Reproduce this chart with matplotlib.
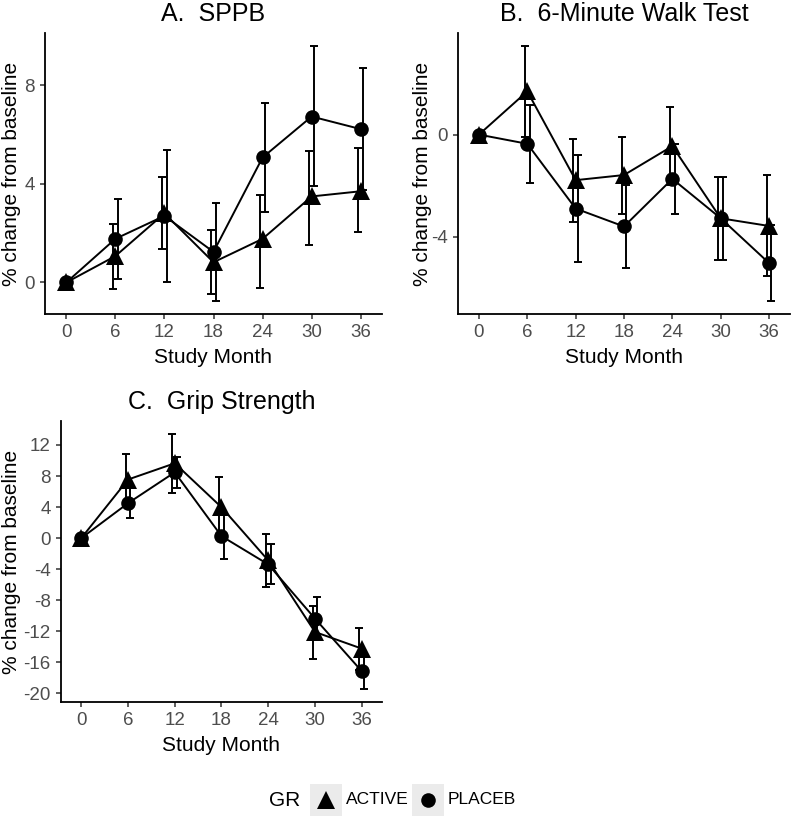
import matplotlib
matplotlib.use("Agg")
import matplotlib.pyplot as plt
from matplotlib.lines import Line2D
from matplotlib.patches import Rectangle

plt.rcParams['font.family'] = ['Liberation Sans', 'DejaVu Sans']

months = [0, 6, 12, 18, 24, 30, 36]
month_ticks = [0, 6, 12, 18, 24, 30, 36]

# A. SPPB
sppb_active = [0, 1.07, 2.8, 0.82, 1.77, 3.49, 3.7]
sppb_active_lo = [0, -0.28, 1.34, -0.47, -0.21, 1.54, 2.04]
sppb_active_hi = [0, 2.38, 4.26, 2.12, 3.56, 5.32, 5.45]
sppb_placeb = [0, 1.77, 2.7, 1.24, 5.07, 6.73, 6.22]
sppb_placeb_lo = [0, 0.15, 0.0, -0.76, 2.87, 3.9, 3.75]
sppb_placeb_hi = [0, 3.4, 5.38, 3.23, 7.27, 9.6, 8.69]

# B. 6-Minute Walk Test
walk_active = [0, 1.69, -1.78, -1.58, -0.45, -3.27, -3.57]
walk_active_lo = [0, -0.09, -3.41, -3.11, -1.98, -4.9, -5.51]
walk_active_hi = [0, 3.47, -0.16, -0.09, 1.08, -1.65, -1.58]
walk_placeb = [0, -0.36, -2.89, -3.59, -1.73, -3.27, -5.02]
walk_placeb_lo = [0, -1.91, -4.99, -5.2, -3.11, -4.9, -6.51]
walk_placeb_hi = [0, 1.17, -0.79, -1.95, -0.35, -1.65, -3.53]

# C. Grip Strength
grip_active = [0, 7.55, 9.64, 3.98, -2.87, -12.08, -14.22]
grip_active_lo = [0, 4.25, 5.84, 0.12, -6.29, -15.5, -16.92]
grip_active_hi = [0, 10.85, 13.44, 7.84, 0.56, -8.68, -11.52]
grip_placeb = [0, 4.5, 8.48, 0.26, -3.38, -10.36, -17.13]
grip_placeb_lo = [0, 2.6, 6.47, -2.74, -5.95, -13.14, -19.45]
grip_placeb_hi = [0, 6.4, 10.5, 3.26, -0.81, -7.58, -14.81]

panels = [
    ("A.  SPPB", [0, 4, 8],
     (sppb_active, sppb_active_lo, sppb_active_hi),
     (sppb_placeb, sppb_placeb_lo, sppb_placeb_hi)),
    ("B.  6-Minute Walk Test", [0, -4],
     (walk_active, walk_active_lo, walk_active_hi),
     (walk_placeb, walk_placeb_lo, walk_placeb_hi)),
    ("C.  Grip Strength", list(range(-20, 13, 4)),
     (grip_active, grip_active_lo, grip_active_hi),
     (grip_placeb, grip_placeb_lo, grip_placeb_hi)),
]

W, H = 792, 818
fig = plt.figure(figsize=(W / 100, H / 100), dpi=100)

# posições dos painéis em pixels (esquerda, topo, direita, base) e x do rótulo y
boxes = [(45, 33, 382, 314, 21), (458, 33, 790, 314, 432), (61, 421, 382, 702, 21)]

grey = '#4D4D4D'
for (title, yticks, act, plc), (l, t, r, b, ylx) in zip(panels, boxes):
    ax = fig.add_axes([l / W, 1 - b / H, (r - l) / W, (b - t) / H])
    for (vals, lo, hi), marker, ms, dx in [(act, '^', 13.5, -0.3), (plc, 'o', 10.5, 0.3)]:
        xs = [m + dx for m in months]
        yerr = [[v - a for v, a in zip(vals, lo)], [c - v for v, c in zip(vals, hi)]]
        ax.errorbar(xs, vals, yerr=yerr, fmt='none', ecolor='black',
                    elinewidth=1.4, capsize=3, capthick=1.4, zorder=2)
        ax.plot(months, vals, color='black', lw=1.4, marker=marker, ms=ms,
                markeredgewidth=0, zorder=3)

    allv = act[1] + act[2] + plc[1] + plc[2]
    lo_, hi_ = min(allv), max(allv)
    pad = (hi_ - lo_) * 0.05
    ax.set_ylim(lo_ - pad, hi_ + pad)
    ax.set_xlim(-2.6, 38.6)
    ax.set_xticks(month_ticks)
    ax.set_yticks(yticks)
    ax.set_yticklabels([str(v) for v in yticks])

    for s in ['top', 'right']:
        ax.spines[s].set_visible(False)
    for s in ['left', 'bottom']:
        ax.spines[s].set_linewidth(1.3)
    ax.tick_params(axis='both', length=3.5, width=1.1, color='#333333',
                   labelsize=13.5, labelcolor=grey, pad=4)

    ax.set_title(title, fontsize=18, pad=8.5)
    ax.set_xlabel("Study Month", fontsize=15, labelpad=4.5)
    ax.set_ylabel("% change from baseline", fontsize=15)
    ax.yaxis.set_label_coords((ylx - l) / (r - l), 0.5)

# legenda
fig.text(269 / W, 1 - 800 / H, "GR", fontsize=15, ha='left', va='center')
for x0, marker, ms, label in [(310, '^', 13.5, "ACTIVE"), (412, 'o', 10.5, "PLACEB")]:
    fig.add_artist(Rectangle((x0 / W, 1 - 816 / H), 32 / W, 32 / H,
                             transform=fig.transFigure, facecolor='#EBEBEB',
                             edgecolor='none'))
    fig.add_artist(Line2D([(x0 + 16) / W], [1 - 800 / H], transform=fig.transFigure,
                          marker=marker, ms=ms, color='black', markeredgewidth=0))
    fig.text((x0 + 36) / W, 1 - 800 / H, label, fontsize=12.5, ha='left', va='center')

plt.savefig('out.png', dpi=100)
